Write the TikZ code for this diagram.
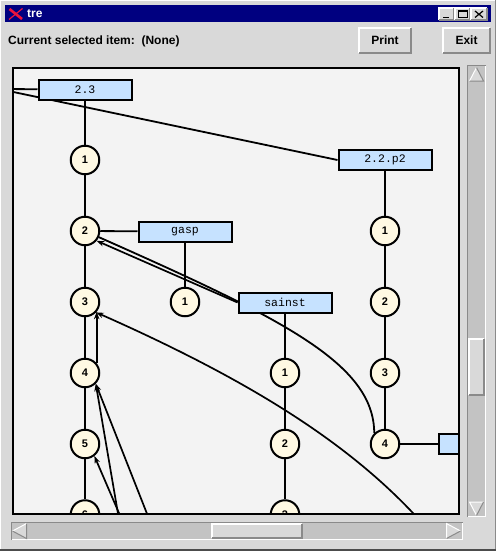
\documentclass[tikz,border=0pt]{standalone}
\usepackage{fontspec}
\setmainfont{Liberation Sans}
\newfontfamily\treefont{Liberation Mono}
\usetikzlibrary{arrows.meta}
\definecolor{wingray}{HTML}{D9D9D9}
\definecolor{titleblue}{HTML}{000080}
\definecolor{canvasbg}{HTML}{F3F3F3}
\definecolor{troughgray}{HTML}{C3C3C3}
\definecolor{shadegray}{HTML}{8A8A8A}
\definecolor{boxblue}{HTML}{C6E2FF}
\definecolor{dotcream}{HTML}{FFF9E3}
\definecolor{xred}{HTML}{F0143C}
\pgfdeclarelayer{frame}
\pgfdeclarelayer{edges}
\pgfsetlayers{frame,edges,main}
\def\raisedbox(#1,#2)(#3,#4){\fill[wingray] (#1,#2) rectangle (#3,#4);
	\draw[white, line width=1.5pt] (#1,#4) -- (#1,#2) -- (#3,#2);
	\draw[shadegray, line width=1.5pt] (#1,#4) -- (#3,#4) -- (#3,#2);}
\tikzset{
	item/.style={draw=black, line width=2pt, fill=boxblue, minimum width=93pt, minimum height=20pt, inner sep=0pt, font=\treefont\fontsize{11.5}{11.5}\selectfont},
	dot/.style={circle, draw=black, line width=2pt, fill=dotcream, minimum size=28.5pt, inner sep=0pt, font=\bfseries\fontsize{11}{11}\selectfont},
	link/.style={line width=1.8pt},
	ref/.style={line width=1.7pt, -{Stealth[length=7.5pt,width=5.5pt]}},
	label/.style={inner sep=0pt, font=\bfseries\fontsize{12}{12}\selectfont}
}

\begin{document}
\begin{tikzpicture}[x=1pt,y=-1pt]
			%%%%% START %%%%%
			\useasboundingbox (0,0) rectangle (496,551);
			
			\begin{pgfonlayer}{frame}
			\fill[wingray] (0,0) rectangle (496,551);
			\draw[white, line width=1pt] (0.5,551) -- (0.5,0.5) -- (496,0.5);
			\draw[shadegray, line width=1pt] (495.5,0) -- (495.5,551);
			\draw[black!70, line width=2pt] (0,550) -- (496,550);
			
			% title bar
			\fill[titleblue] (5,5) rectangle (491,22);
			\draw[xred, line width=2.6pt] (9.5,9) -- (22,19);
			\draw[xred, line width=1.2pt] (9,19.5) -- (22.5,8.5);
			\node[label, anchor=west, text=white] (title) at (27,13.5) {tre};
			\raisedbox(439,8)(454,20)
			\raisedbox(455,8)(470,20)
			\raisedbox(471,8)(487,20)
			\draw[line width=1.6pt] (443,17.5) -- (449,17.5);
			\draw[line width=1pt] (458.5,10.5) rectangle (467,18);
			\draw[line width=2pt] (458.5,10.8) -- (467,10.8);
			\draw[line width=1.2pt] (475,11) -- (483,17.5) (475,17.5) -- (483,11);
			
			% status line and buttons
			\node[label, anchor=west] (status) at (8,41) {Current selected item:\ \ (None)};
			\raisedbox(359,28)(411,53)
			\node[label] (print) at (385,40.5) {Print};
			\raisedbox(443,28)(490,53)
			\node[label] (exit) at (466.5,40.5) {Exit};
			
			% scrollbars
			\fill[troughgray] (467,65) rectangle (486,517);
			\draw[shadegray, line width=1pt] (467.5,517) -- (467.5,65.5) -- (486,65.5);
			\draw[white, line width=1pt] (467.5,516.5) -- (485.5,516.5) -- (485.5,65.5);
			\fill[wingray] (469.5,81) -- (476.5,67.5) -- (483.5,81) -- cycle;
			\draw[white, line width=1pt] (469.5,81) -- (476.5,67.5);
			\draw[shadegray, line width=1pt] (476.5,67.5) -- (483.5,81) -- (469.5,81);
			\fill[wingray] (469.5,502) -- (483.5,502) -- (476.5,515.5) -- cycle;
			\draw[white, line width=1pt] (483.5,502) -- (469.5,502) -- (476.5,515.5);
			\draw[shadegray, line width=1pt] (476.5,515.5) -- (483.5,502);
			\raisedbox(469,339)(484,395)
			
			\fill[troughgray] (11,522) rectangle (463,540);
			\draw[shadegray, line width=1pt] (11.5,540) -- (11.5,522.5) -- (463,522.5);
			\draw[white, line width=1pt] (11.5,539.5) -- (462.5,539.5) -- (462.5,522.5);
			\fill[wingray] (12.5,531) -- (26.5,523.5) -- (26.5,538.5) -- cycle;
			\draw[white, line width=1pt] (26.5,523.5) -- (12.5,531);
			\draw[shadegray, line width=1pt] (12.5,531) -- (26.5,538.5) -- (26.5,523.5);
			\fill[wingray] (446.5,523.5) -- (446.5,538.5) -- (460.5,531) -- cycle;
			\draw[white, line width=1pt] (446.5,538.5) -- (446.5,523.5) -- (460.5,531);
			\draw[shadegray, line width=1pt] (460.5,531) -- (446.5,538.5);
			\raisedbox(212,524)(302,538)
			
			\fill[canvasbg] (13,68) rectangle (459,514);
			\end{pgfonlayer}
			
			% tree
			\begin{scope}
			\clip (13,68) rectangle (459,514);
			\coordinate (up) at (-1,89);
			\node[item] (b23) at (85,89.5) {2.3};
			\node[dot] (a1) at (85,160) {1};
			\node[dot] (a2) at (85,231) {2};
			\node[dot] (a3) at (85,302) {3};
			\node[dot] (a4) at (85,373) {4};
			\node[dot] (a5) at (85,444) {5};
			\node[dot] (a6) at (85,514.5) {6};
			
			\node[item] (gasp) at (185,231.5) {gasp};
			\node[dot] (g1) at (185,302) {1};
			
			\node[item] (sainst) at (285,302.5) {sainst};
			\node[dot] (s1) at (285,373) {1};
			\node[dot] (s2) at (285,444) {2};
			\node[dot] (s3) at (285,514.5) {3};
			
			\node[item] (p2box) at (385,160) {2.2.p2};
			\node[dot] (q1) at (385,231) {1};
			\node[dot] (q2) at (385,302) {2};
			\node[dot] (q3) at (385,373) {3};
			\node[dot] (q4) at (385,444) {4};
			\node[item] (tailbox) at (485,444) {};
			
			\coordinate (r3) at (430,532);
			\coordinate (r4a) at (121.5,534);
			\coordinate (r4b) at (155,534);
			\coordinate (r5) at (128,534);
			\end{scope}
			
			\begin{pgfonlayer}{edges}
			\begin{scope}
			\clip (13,68) rectangle (459,514);
			\draw[link] (up) -- (b23);
			\draw[link] (up) -- (p2box.west);
			\foreach \u/\v in {b23/a1,a1/a2,a2/a3,a3/a4,a4/a5,a5/a6,a2/gasp,gasp/g1,sainst/s1,s1/s2,s2/s3,p2box/q1,q1/q2,q2/q3,q3/q4,q4/tailbox}
				\draw[link] (\u) -- (\v);
			\draw[link] (a2) .. controls +(196,87) and +(0,-70) .. (q4.135);
			\draw[ref] (sainst.west) -- (a2.-40);
			\draw[ref] (r3) .. controls (360,450) and (258,384) .. (a3.-43);
			\draw[ref] (a4.40) -- (a3.-40);
			\draw[ref] (r4a) -- (a4.-45);
			\draw[ref] (r4b) -- (a4.-45);
			\draw[ref] (r5) -- (a5.-52);
			\end{scope}
			\end{pgfonlayer}
			
			\draw[line width=2pt] (13,68) rectangle (459,514);
			%%%%% END %%%%%
\end{tikzpicture}
\end{document}
